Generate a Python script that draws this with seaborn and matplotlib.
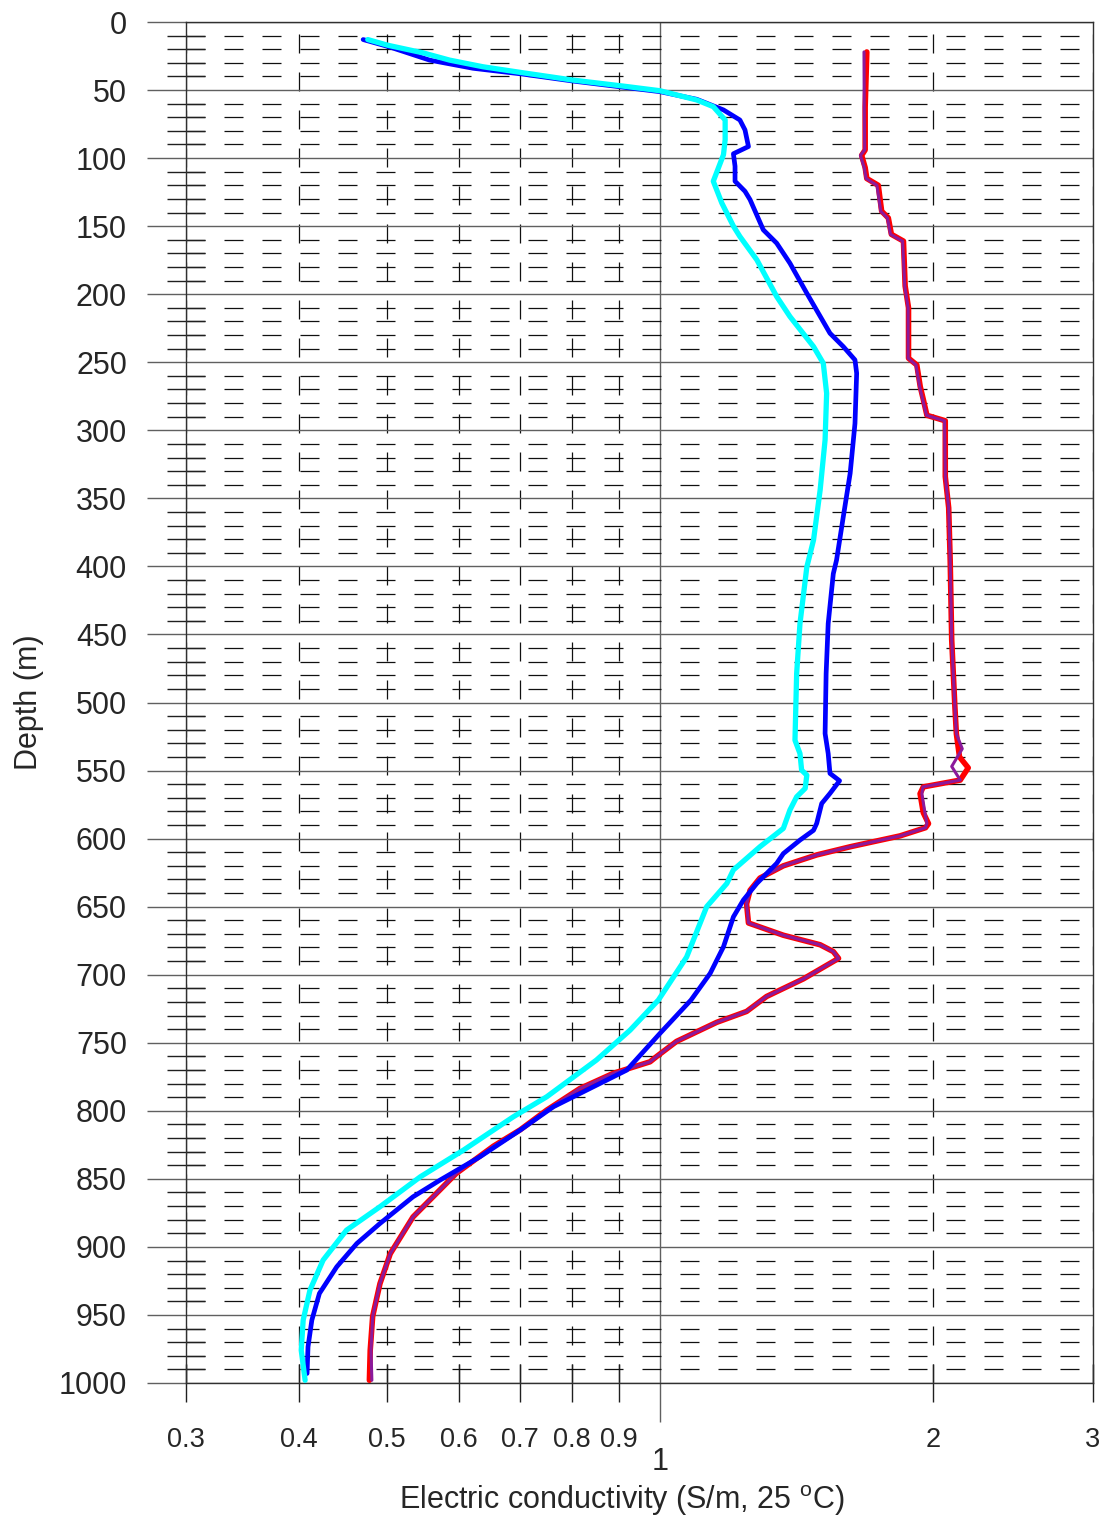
import numpy as np
import pandas as pd
import matplotlib
matplotlib.use('Agg')
import matplotlib.pyplot as plt
import seaborn as sns
from matplotlib.ticker import FixedLocator, FixedFormatter, MultipleLocator

# profiles: depth (m) and conductivity (S/m, 25 C)
cyan_depth = [12.9, 17.1, 22.7, 28, 32.9, 37.3, 42.7, 47.1, 50.5, 57.3, 62.2, 72, 86.5, 97.5,
              117, 133, 150, 157.6, 174.8, 201.7, 216.4, 238.5, 250.7, 272.8, 307, 343.9, 380.6,
              400.5, 442, 478.8, 527.7, 537.5, 549.7, 553.4, 563.1, 569.3, 579, 592.5, 606, 623,
              633, 650, 687, 718.6, 740.7, 762.7, 789.7, 804.4, 828.9, 848.5, 870.5, 887.7,
              909.7, 931.8, 953.8, 975.9, 998]
cyan_ec = [0.476, 0.501, 0.548, 0.586, 0.638, 0.706, 0.802, 0.911, 1.0, 1.098, 1.145, 1.18, 1.18, 1.175,
           1.145, 1.17, 1.205, 1.225, 1.279, 1.345, 1.391, 1.477, 1.514, 1.527, 1.521, 1.502, 1.477,
           1.452, 1.427, 1.415, 1.409, 1.427, 1.433, 1.452, 1.446, 1.415, 1.391, 1.368, 1.289, 1.205,
           1.185, 1.126, 1.07, 0.996, 0.927, 0.851, 0.75, 0.689, 0.607, 0.544, 0.491, 0.451,
           0.425, 0.411, 0.404, 0.402, 0.406]

blue_depth = [12.9, 18.3, 28, 34, 38.3, 43.4, 51.2, 56.8, 64.6, 72, 79.3, 91.5, 96.8, 106, 117,
              124.4, 130.5, 152.7, 162.5, 177.2, 199.3, 228.7, 238.5, 248.3, 258.1, 294.9, 331.6,
              363.5, 395.3, 405.4, 442, 478.8, 522.8, 537.5, 552.1, 557.5, 566.8, 574.2, 588.8,
              593.9, 601.1, 611, 618.2, 632.9, 645.1, 657.5, 679.5, 699, 718.6, 743.1, 770.1,
              783.6, 797, 814.2, 833.8, 850.9, 863.2, 882.8, 897.5, 914.6, 934.2, 953.8, 973.4, 993]
blue_ec = [0.4705, 0.503, 0.557, 0.622, 0.706, 0.802, 1.0, 1.098, 1.175, 1.225, 1.241, 1.252, 1.205, 1.21, 1.21,
           1.241, 1.257, 1.3, 1.345, 1.391, 1.452, 1.54, 1.593, 1.641, 1.648, 1.641, 1.621,
           1.593, 1.566, 1.553, 1.533, 1.525, 1.521, 1.533, 1.54, 1.578, 1.54, 1.508, 1.489,
           1.477, 1.427, 1.368, 1.345, 1.279, 1.236, 1.205, 1.175, 1.136, 1.082, 1.0, 0.919,
           0.837, 0.763, 0.701, 0.633, 0.572, 0.534, 0.491, 0.463, 0.44, 0.421, 0.413, 0.409, 0.408]

red_depth = [22, 62.6, 94, 98, 107, 115, 120, 139, 144, 156, 161, 194, 210, 247, 252, 268, 278, 289,
             293, 334, 357, 396, 454, 503, 523, 540, 548, 557, 562, 567, 581, 589, 592, 598, 606,
             612, 620, 629, 638, 648, 662, 671, 678, 683, 688, 703, 716, 727, 735, 749, 760, 764,
             772.5, 783.6, 799.5, 814, 826, 846, 858, 878, 905, 927, 951, 976, 998]
red_ec = [1.691, 1.684, 1.684, 1.669, 1.684, 1.691, 1.741, 1.756, 1.786, 1.8, 1.856, 1.864, 1.88, 1.88,
          1.92, 1.937, 1.953, 1.97, 2.064, 2.064, 2.082, 2.09, 2.098, 2.115, 2.123, 2.14, 2.188, 2.144,
          1.952, 1.936, 1.952, 1.978, 1.963, 1.84, 1.621, 1.489, 1.368, 1.289, 1.257, 1.246, 1.252,
          1.368, 1.502, 1.553, 1.574, 1.44, 1.311, 1.246, 1.155, 1.043, 0.992, 0.975, 0.888, 0.816,
          0.75, 0.701, 0.655, 0.596, 0.572, 0.534, 0.504, 0.491, 0.482, 0.479, 0.478]

purple_depth = [22, 62.6, 94, 98, 107, 115, 120, 139, 144, 156, 161, 194, 210, 247, 252, 268, 278, 289,
                293, 334, 357, 396, 454, 503, 523, 534, 547, 557, 562, 567, 581, 589, 592, 598, 606,
                612, 620, 629, 638, 648, 662, 671, 678, 683, 688, 703, 716, 727, 735, 749, 760, 764,
                772.5, 783.6, 799.5, 814, 826, 846, 858, 878, 905, 927, 951, 976, 998]
purple_ec = [1.679, 1.68, 1.682, 1.664, 1.68, 1.688, 1.735, 1.752, 1.782, 1.796, 1.852, 1.862, 1.878, 1.878,
             1.916, 1.934, 1.95, 1.968, 2.06, 2.064, 2.082, 2.09, 2.098, 2.115, 2.123, 2.155, 2.098, 2.144,
             1.95, 1.945, 1.96, 1.97, 1.963, 1.84, 1.621, 1.489, 1.368, 1.289, 1.257, 1.246, 1.252,
             1.368, 1.502, 1.553, 1.574, 1.44, 1.311, 1.246, 1.155, 1.043, 0.992, 0.975, 0.888, 0.816,
             0.75, 0.701, 0.655, 0.596, 0.572, 0.534, 0.504, 0.491, 0.482, 0.48, 0.481]

x_major_ticks = [1]
x_major_labels = ['1']
x_minor_ticks = [0.3, 0.4, 0.5, 0.6, 0.7, 0.8, 0.9, 2, 3]
x_minor_labels = ['0.3', '0.4', '0.5', '0.6', '0.7', '0.8', '0.9', '2', '3']

sns.set_style('white')
plt.rcParams['font.family'] = ['Liberation Sans', 'DejaVu Sans']
plt.rcParams['mathtext.fontset'] = 'custom'
plt.rcParams['mathtext.rm'] = 'Liberation Sans'

fig = plt.figure(figsize=(11.04, 15.19), dpi=100)
ax = fig.add_axes([186 / 1104, 1 - 1383 / 1519, (1092.5 - 186) / 1104, 1361 / 1519])

series = [
    (red_ec, red_depth, '#FF0000', 4.0, 3),
    (purple_ec, purple_depth, '#8B1A9B', 2.2, 4),
    (blue_ec, blue_depth, '#0000FF', 3.4, 5),
    (cyan_ec, cyan_depth, '#00FFFF', 3.8, 6),
]
for ec, dep, col, lw, z in series:
    sns.lineplot(x=ec, y=dep, ax=ax, color=col, linewidth=lw, sort=False, estimator=None,
                 solid_joinstyle='round', solid_capstyle='round', zorder=z)

ax.set_xscale('log')
ax.set_xlim(0.3, 3)
ax.set_ylim(1000, 0)

ax.xaxis.set_major_locator(FixedLocator(x_major_ticks))
ax.xaxis.set_major_formatter(FixedFormatter(x_major_labels))
ax.xaxis.set_minor_locator(FixedLocator(x_minor_ticks))
ax.xaxis.set_minor_formatter(FixedFormatter(x_minor_labels))
ax.yaxis.set_major_locator(MultipleLocator(50))
ax.yaxis.set_minor_locator(MultipleLocator(10))

ax.tick_params(axis='x', which='both', bottom=True, top=False)
ax.tick_params(axis='y', which='both', left=True, right=False)
ax.tick_params(axis='x', which='major', direction='out', length=28, width=1, color='#606060',
               labelsize=22, pad=18)
ax.tick_params(axis='x', which='minor', direction='inout', length=27.4, width=1, color='#202020',
               labelsize=19.5, pad=18)
ax.tick_params(axis='y', which='major', direction='out', length=28, width=1, color='#606060',
               labelsize=22, pad=14.5)
ax.tick_params(axis='y', which='minor', direction='inout', length=27.4, width=1, color='#202020')

ax.grid(which='major', axis='both', color='#606060', lw=1.0, ls='-')
ax.grid(which='minor', axis='both', color='#101010', lw=0.9, ls=(0, (15.2, 15.2)))
ax.set_axisbelow(True)

for sp in ax.spines.values():
    sp.set_visible(True)
    sp.set_color('#303030')
    sp.set_linewidth(1)

ax.set_xlabel(r'Electric conductivity (S/m, 25 $^{\rm o}$C)', fontsize=22)
ax.xaxis.set_label_coords(0.481, -0.0735)
ax.set_ylabel('Depth (m)', fontsize=22)
ax.yaxis.set_label_coords(-0.157, 0.5)

fig.savefig('out.png', dpi=100)
